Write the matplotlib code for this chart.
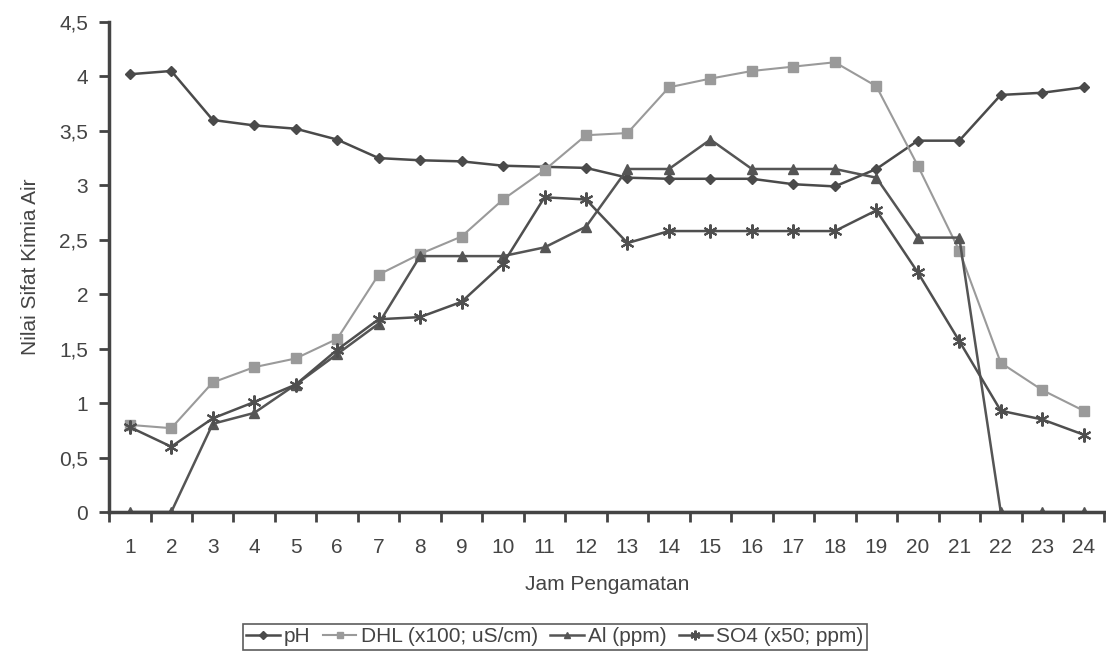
## Libraries
import numpy as np
import matplotlib.pyplot as plt
from matplotlib.ticker import FuncFormatter

plt.rcParams['font.family'] = ['Liberation Sans', 'DejaVu Sans']

## Data
jam = list(range(1, 25))
ph = [4.02, 4.05, 3.60, 3.55, 3.52, 3.42, 3.25, 3.23, 3.22, 3.18, 3.17, 3.16,
      3.07, 3.06, 3.06, 3.06, 3.01, 2.99, 3.15, 3.41, 3.41, 3.83, 3.85, 3.90]
dhl = [0.80, 0.77, 1.19, 1.33, 1.41, 1.59, 2.18, 2.37, 2.53, 2.87, 3.14, 3.46,
       3.48, 3.90, 3.98, 4.05, 4.09, 4.13, 3.91, 3.18, 2.40, 1.37, 1.12, 0.93]
al = [0, 0, 0.81, 0.91, 1.17, 1.45, 1.73, 2.35, 2.35, 2.35, 2.43, 2.62,
      3.15, 3.15, 3.42, 3.15, 3.15, 3.15, 3.07, 2.52, 2.52, 0, 0, 0]
so4 = [0.78, 0.60, 0.86, 1.01, 1.17, 1.49, 1.77, 1.79, 1.93, 2.28, 2.89, 2.87,
       2.47, 2.58, 2.58, 2.58, 2.58, 2.58, 2.77, 2.20, 1.57, 0.93, 0.85, 0.71]

## Graph
fig = plt.figure(figsize=(11.06, 6.52), dpi=100)
ax = fig.add_axes([0.0986, 0.2147, 0.9, 0.7516])

ax.plot(jam, ph, '-D', color='#4a4a4a', ms=5.5, lw=1.8, label='pH')
ax.plot(jam, dhl, '-s', color='#9a9a9a', ms=6.5, lw=1.5, label='DHL (x100; uS/cm)')
ax.plot(jam, al, '-^', color='#555555', ms=7, lw=1.8, label='Al (ppm)')
ax.plot(jam, so4, '-', marker=(6, 2, 0), color='#4f4f4f', ms=10, mew=1.5, lw=1.8,
        label='SO4 (x50; ppm)')

ax.set_xlim(0.5, 24.5)
ax.set_ylim(0, 4.5)
ax.set_yticks(np.arange(0, 4.51, 0.5))
ax.yaxis.set_major_formatter(FuncFormatter(lambda v, p: ('%g' % v).replace('.', ',')))
ax.set_xticks(jam)
ax.set_xticks(np.arange(0.5, 24.6, 1), minor=True)
ax.tick_params(axis='x', which='major', length=0, pad=19)
ax.tick_params(axis='x', which='minor', length=7, width=2, color='#444444')
ax.tick_params(axis='y', length=7, width=2, color='#444444', pad=8)
ax.tick_params(labelsize=15, labelcolor='#444444')

for s in ['top', 'right']:
    ax.spines[s].set_visible(False)
for s in ['left', 'bottom']:
    ax.spines[s].set_linewidth(2.5)
    ax.spines[s].set_color('#444444')

ax.set_xlabel('Jam Pengamatan', fontsize=15, color='#444444', labelpad=13)
ax.set_ylabel('Nilai Sifat Kimia Air', fontsize=15, color='#444444', labelpad=14)

leg = ax.legend(loc='center', bbox_to_anchor=(0.448, -0.255), ncol=4, fontsize=15,
                frameon=True, fancybox=False, handlelength=1.6, handletextpad=0.2,
                columnspacing=0.6, borderpad=0.15, markerscale=0.7)
leg.get_frame().set_edgecolor('#333333')
leg.get_frame().set_linewidth(1.2)
for t in leg.get_texts():
    t.set_color('#444444')

fig.savefig('out.png', dpi=100)
